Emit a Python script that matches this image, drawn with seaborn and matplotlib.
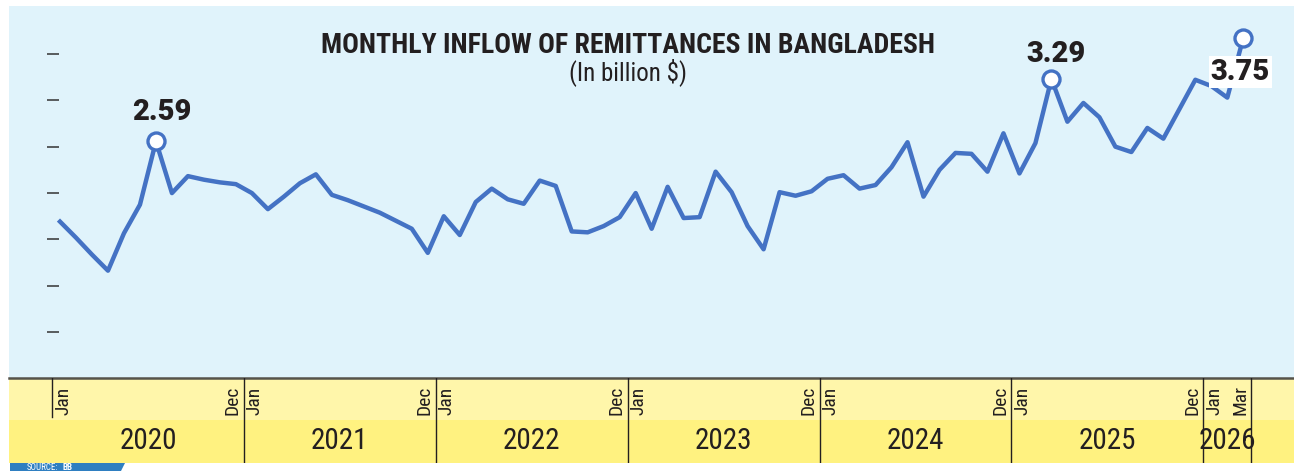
import matplotlib
matplotlib.use("Agg")
import matplotlib.pyplot as plt
from matplotlib import font_manager
from matplotlib.patches import Polygon
import pandas as pd
import seaborn as sns

# Monthly remittance inflow, billion $, Jan 2020 - Mar 2026
remit2020 = [1.69, 1.51, 1.32, 1.14, 1.56, 1.88, 2.59, 2.01, 2.20, 2.16, 2.13, 2.11]
remit2021 = [2.01, 1.83, 1.97, 2.12, 2.22, 1.99, 1.93, 1.86, 1.79, 1.70, 1.61, 1.34]
remit2022 = [1.75, 1.54, 1.91, 2.06, 1.94, 1.89, 2.15, 2.09, 1.58, 1.57, 1.64, 1.74]
remit2023 = [2.01, 1.61, 2.08, 1.73, 1.74, 2.25, 2.02, 1.64, 1.38, 2.02, 1.98, 2.03]
remit2024 = [2.17, 2.21, 2.06, 2.10, 2.30, 2.58, 1.97, 2.27, 2.46, 2.45, 2.25, 2.68]
remit2025 = [2.23, 2.57, 3.29, 2.81, 3.02, 2.86, 2.53, 2.47, 2.74, 2.62, 2.95, 3.28]
remit2026 = [3.21, 3.08, 3.75]
remittance = remit2020 + remit2021 + remit2022 + remit2023 + remit2024 + remit2025 + remit2026
months = pd.date_range("2020-01-01", periods=len(remittance), freq="MS")

# points called out on the chart
callouts = {"2020-07": "2.59", "2025-03": "3.29", "2026-03": "3.75"}
# unlabelled tick dashes on the value axis
yTicks = [0.45, 0.97, 1.49, 2.01, 2.53, 3.05, 3.57]

title = "MONTHLY INFLOW OF REMITTANCES IN BANGLADESH"
subtitle = "(In billion $)"
source = "SOURCE:"
sourceName = "BB"

BLUE_BG = "#E0F3FB"
LINE = "#4472C4"
YEL_LIGHT = "#FFF6AA"
YEL = "#FFF280"
DARK = "#231F20"

# pick a narrow face if one is around, the original uses a condensed font
names = {f.name for f in font_manager.fontManager.ttflist}
if "Roboto Condensed" in names:
    cond = dict(family="Roboto Condensed")
elif "Liberation Sans Narrow" in names:
    cond = dict(family="Liberation Sans Narrow")
else:
    cond = dict(family="DejaVu Sans", fontstretch="condensed")
heavy = dict(family="Roboto", weight="heavy") if "Roboto" in names else dict(family="DejaVu Sans", weight="bold")

df = pd.DataFrame({"month": months, "remittance": remittance})
df["idx"] = range(len(df))
df["year"] = df["month"].dt.year
df["label"] = df["month"].dt.strftime("%Y-%m").map(callouts).fillna("")

W, H = 1294, 471
fig = plt.figure(figsize=(W / 100, H / 100), dpi=100)

#Main panel
ax = fig.add_axes([9 / W, 93 / H, 1285 / W, 372 / H])
ax.set_facecolor(BLUE_BG)
sns.lineplot(data=df, x="idx", y="remittance", ax=ax, color=LINE, lw=3.2, zorder=3)
hl = df[df["label"] != ""]
sns.scatterplot(data=hl, x="idx", y="remittance", ax=ax, s=150, color="white",
                edgecolor=LINE, linewidth=2.4, zorder=5)

offsets = {"2.59": (6, 21, None), "3.29": (5, 17, None), "3.75": (-3, -42, "white")}
for _, r in hl.iterrows():
    dx, dy, box = offsets[r["label"]]
    ax.annotate(r["label"], xy=(r["idx"], r["remittance"]), xytext=(dx, dy),
                textcoords="offset pixels", ha="center", va="baseline",
                fontsize=21, color=DARK, zorder=6, **heavy,
                bbox=dict(facecolor=box, edgecolor="none", pad=1.5) if box else None)

ax.set_xlim(-3.19, 77.17)
ax.set_ylim(-0.063, 4.107)
for s in ax.spines.values():
    s.set_visible(False)
ax.spines["left"].set_position(("data", -0.41))
ax.set_yticks(yTicks)
ax.set_yticklabels([])
ax.tick_params(axis="y", direction="inout", length=8, width=1.1, color="#333333")
ax.set_xticks([])
ax.set_xlabel("")
ax.set_ylabel("")

ax.text(0.4817, 0.874, title, transform=ax.transAxes, ha="center", va="baseline",
        fontsize=20, weight="bold", color=DARK, **cond)
ax.text(0.4817, 0.801, subtitle, transform=ax.transAxes, ha="center", va="baseline",
        fontsize=18, color=DARK, **cond)

#Month / year bands
axb = fig.add_axes([9 / W, 8 / H, 1285 / W, 85 / H])
axb.set_xlim(ax.get_xlim())
axb.set_ylim(0, 1)
axb.set_axis_off()
axb.axhspan(0.506, 1, color=YEL_LIGHT, lw=0)
axb.axhspan(0, 0.506, color=YEL, lw=0)
axb.axhline(1, color="#55524A", lw=1.8, clip_on=False)

for year, g in df.groupby("year"):
    first, last = g.iloc[0], g.iloc[-1]
    if first["idx"] == 0:
        axb.axvline(first["idx"] - 0.5, ymin=0.545, ymax=1, color=DARK, lw=1)
    axb.axvline(last["idx"] + 0.5, ymin=0, ymax=1, color=DARK, lw=1)
    # first month nudged right of the divider, last month nudged left
    for r, dx in ((first, 3), (last, -3)):
        axb.annotate(r["month"].strftime("%b"), xy=(r["idx"], 0.57), xytext=(dx, 0),
                     textcoords="offset pixels", rotation=90, ha="center", va="bottom",
                     fontsize=14, color=DARK, **cond)
    axb.text((first["idx"] + last["idx"]) / 2, 0.26, str(year), ha="center", va="center",
             fontsize=21, color=DARK, **cond)

#Source tab at the bottom edge
fig.patches.append(Polygon([(10 / W, 8 / H), (125 / W, 8 / H), (121 / W, 0), (10 / W, 0)],
                           closed=True, transform=fig.transFigure, color="#2F7FC1", lw=0))
src = fig.text(27 / W, 4 / H, source, ha="left", va="center", fontsize=6.5,
               color="white", **cond)
fig.add_artist(plt.Annotation(sourceName, xy=(1, 0.5), xycoords=src, xytext=(3, 0),
                              textcoords="offset points", ha="left", va="center",
                              fontsize=6.5, weight="bold", color="white", **cond))

fig.savefig("out.png", dpi=100, facecolor="white")
plt.close(fig)
